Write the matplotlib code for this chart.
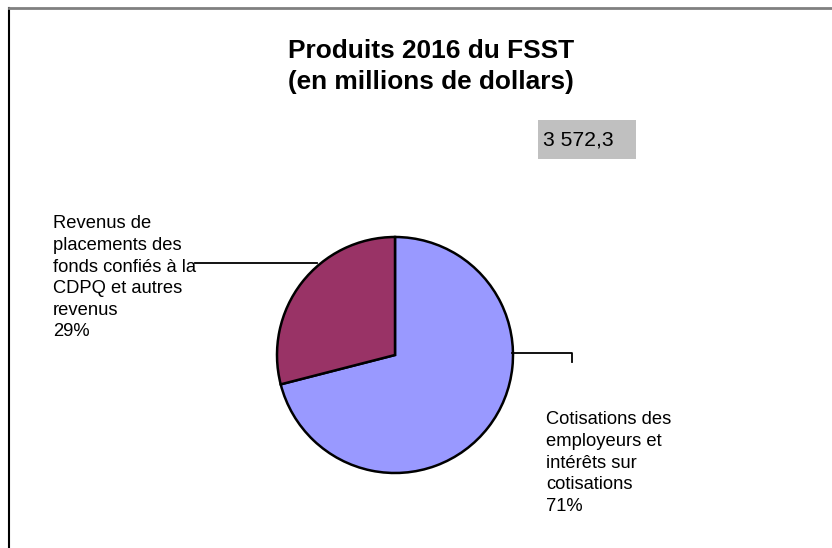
import matplotlib
matplotlib.use("Agg")
import matplotlib.pyplot as plt
from matplotlib.patches import Rectangle

title = "Produits 2016 du FSST\n(en millions de dollars)"
categories = ["Cotisations des\nemployeurs et\nintérêts sur\ncotisations",
              "Revenus de\nplacements des\nfonds confiés à la\nCDPQ et autres\nrevenus"]
percents = [71, 29]
total_label = "3 572,3"
colors = ["#9999FF", "#993366"]

FAM = ['Liberation Sans', 'DejaVu Sans']
plt.rcParams['font.family'] = FAM

W, H = 832, 548
fig = plt.figure(figsize=(W / 100, H / 100), dpi=100)
ax = fig.add_axes([0, 0, 1, 1])

def py(y):
    return H - y

cx, cy, r = 395, py(355), 118
ax.pie(percents, colors=colors, startangle=90, counterclock=False,
       center=(cx, cy), radius=r,
       wedgeprops=dict(edgecolor="black", linewidth=1.8))
ax.set_xlim(0, W)
ax.set_ylim(0, H)
ax.set_aspect("auto")
ax.axis("off")

# frame
ax.plot([9, 9], [py(8), 0], color="black", lw=1.5, clip_on=False)
ax.plot([9, W], [py(8), py(8)], color="#808080", lw=2, clip_on=False)

# title
ax.text(431, py(66.5), title, ha="center", va="center", fontsize=18.9,
        fontweight="bold", linespacing=1.32, family=FAM)

# total box
ax.add_patch(Rectangle((538, py(159)), 98, 39, facecolor="#C0C0C0", edgecolor="none"))
ax.text(543, py(139.5), total_label, ha="left", va="center", fontsize=15.2, family=FAM)

# labels
lbl_kw = dict(fontsize=13.2, linespacing=1.35, family=FAM)
ax.text(53, py(215.5), f"{categories[1]}\n{percents[1]}%", ha="left", va="top", **lbl_kw)
ax.text(546, py(411.5), f"{categories[0]}\n{percents[0]}%", ha="left", va="top", **lbl_kw)

# leader lines
ax.plot([195, 317], [py(263), py(263)], color="black", lw=1.3)
ax.plot([512, 572, 572], [py(353), py(353), py(362)], color="black", lw=1.3)

fig.savefig("out.png", dpi=100)
